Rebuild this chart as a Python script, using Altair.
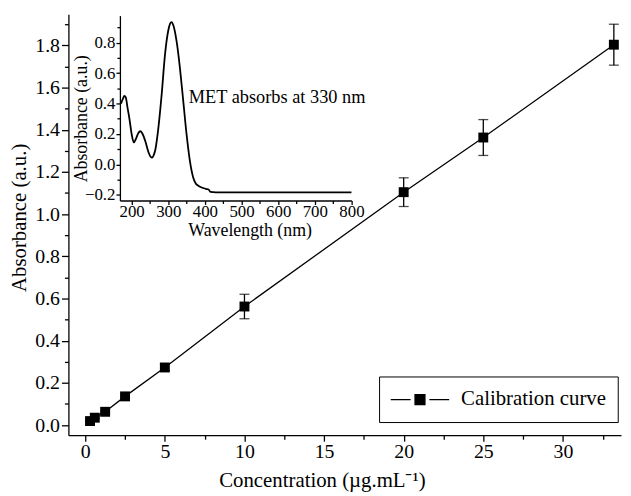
import altair as alt
import pandas as pd

# ---- calibration data ----
conc = [0.3, 0.6, 1.25, 2.5, 5, 10, 20, 25, 33.2]
absorb = [0.019, 0.035, 0.063, 0.136, 0.273, 0.562, 1.104, 1.363, 1.803]
err = [0.004, 0.004, 0.005, 0.006, 0.015, 0.058, 0.068, 0.085, 0.097]
series = ["Calibration curve"] * len(conc)

# ---- UV spectrum (inset) ----
wl = [171, 176, 180, 184, 189, 194, 200, 206, 212, 218, 224, 230, 237, 246, 252,
      256, 260, 265, 273, 282, 291, 300, 305, 309, 314, 323, 332, 341, 350, 359,
      368, 375, 382, 395, 404, 410, 415, 430, 500, 600, 700, 800]
spec = [0.40, 0.43, 0.45, 0.44, 0.37, 0.30, 0.20, 0.145, 0.17, 0.205, 0.218, 0.20,
        0.155, 0.08, 0.05, 0.045, 0.06, 0.10, 0.24, 0.46, 0.72, 0.88, 0.925, 0.935,
        0.913, 0.805, 0.63, 0.414, 0.197, 0.023, -0.086, -0.125, -0.14, -0.155,
        -0.162, -0.165, -0.18, -0.183, -0.183, -0.183, -0.184, -0.184]

note_x = [356]
note_y = [0.403]
note_text = ["MET absorbs at 330 nm"]

main_x_ticks = [0, 5, 10, 15, 20, 25, 30]
main_x_minor = [2.5, 7.5, 12.5, 17.5, 22.5, 27.5, 32.5]
main_y_ticks = [0.0, 0.2, 0.4, 0.6, 0.8, 1.0, 1.2, 1.4, 1.6, 1.8]
main_y_minor = [0.1, 0.3, 0.5, 0.7, 0.9, 1.1, 1.3, 1.5, 1.7, 1.9]
in_x_ticks = [200, 300, 400, 500, 600, 700, 800]
in_x_minor = [250, 350, 450, 550, 650, 750]
in_y_ticks = [-0.2, 0.0, 0.2, 0.4, 0.6, 0.8]
in_y_minor = [-0.1, 0.1, 0.3, 0.5, 0.7, 0.9]

FONT = "Liberation Serif"
W, H = 558, 425

cal = pd.DataFrame({
    "conc": conc, "absorb": absorb,
    "lo": [a - e for a, e in zip(absorb, err)],
    "hi": [a + e for a, e in zip(absorb, err)],
    "series": series,
})
spec_df = pd.DataFrame({"nm": wl, "a": spec})
note_df = pd.DataFrame({"nm": note_x, "a": note_y, "t": note_text})

xs = alt.Scale(domain=[-1.057, 33.65], nice=False, zero=False)
ys = alt.Scale(domain=[-0.048, 1.947], nice=False, zero=False)
xi = alt.Scale(domain=[168, 800], range=[52, 285.8], nice=False, zero=False)
yi = alt.Scale(domain=[-0.237, 0.978], range=[188, 1.3], nice=False, zero=False)

common = dict(domainColor="black", tickColor="black", labelColor="black",
              titleColor="black", labelFont=FONT, titleFont=FONT, labelOverlap=False,
              labelFlush=False, titleFontWeight="normal", grid=False,
              domainWidth=1.3, tickWidth=1.3)

main_x_axis = alt.Axis(orient="bottom", values=main_x_ticks, format="d", tickSize=6,
                       labelPadding=1, labelFontSize=20, title="Concentration (µg.mL⁻¹)",
                       titleFontSize=21, titleX=256, titleY=52, titleAlign="center",
                       titleBaseline="alphabetic", **common)
main_y_axis = alt.Axis(orient="left", values=main_y_ticks, format=".1f", tickSize=7,
                       labelPadding=2, labelFontSize=20, title="Absorbance (a.u.)",
                       titleFontSize=21, titleX=-49, titleY=205, titleAngle=270,
                       titleAlign="center", titleBaseline="middle", **common)
minor_common = dict(domain=False, labels=False, title=None, tickColor="black",
                    tickWidth=1.3, grid=False)
main_x_minor_axis = alt.Axis(orient="bottom", values=main_x_minor, tickSize=4, **minor_common)
main_y_minor_axis = alt.Axis(orient="left", values=main_y_minor, tickSize=4, **minor_common)

in_x_axis = alt.Axis(orient="bottom", offset=-(H - 188), values=in_x_ticks, format="d",
                     tickSize=4, labelPadding=-1, labelFontSize=17, title="Wavelength (nm)",
                     titleFontSize=18, titleX=183, titleY=35, titleAlign="center",
                     titleBaseline="alphabetic", **common)
in_y_axis = alt.Axis(orient="left", offset=-52, values=in_y_ticks, format=".1f",
                     tickSize=4, labelPadding=1, labelFontSize=17, title="Absorbance (a.u.)",
                     titleFontSize=18, titleX=-39, titleY=105, titleAngle=270,
                     titleAlign="center", titleBaseline="middle", **common)
in_x_minor_axis = alt.Axis(orient="bottom", offset=-(H - 188), values=in_x_minor,
                           tickSize=3, **minor_common)
in_y_minor_axis = alt.Axis(orient="left", offset=-52, values=in_y_minor, tickSize=3,
                           **minor_common)

# legend symbol: line - square - line, drawn wider than its nominal size
legend_path = "M-2.81,0H-0.905M0.905,0H2.81M-0.476,-0.476H0.476V0.476H-0.476Z"
legend = alt.Legend(title=None, orient="none", legendX=313.7, legendY=365.7,
                    strokeColor="black", fillColor="white", padding=11.8,
                    symbolType=legend_path, symbolSize=441, symbolStrokeWidth=1.3,
                    symbolStrokeColor="black", symbolFillColor="black",
                    symbolOffset=18, labelOffset=30,
                    labelFont=FONT, labelFontSize=21, labelColor="black",
                    labelLimit=400, cornerRadius=0)
color = alt.Color("series:N", scale=alt.Scale(range=["black"]), legend=legend)

base = alt.Chart(cal)

line = base.mark_line(strokeWidth=1.3).encode(
    x=alt.X("conc:Q", scale=xs, axis=main_x_axis),
    y=alt.Y("absorb:Q", scale=ys, axis=main_y_axis),
    color=color,
)
minor = base.mark_point(opacity=0).encode(
    x=alt.X("conc:Q", scale=xs, axis=main_x_minor_axis),
    y=alt.Y("absorb:Q", scale=ys, axis=main_y_minor_axis),
)
bars = base.mark_rule(color="black", strokeWidth=1.3).encode(
    x=alt.X("conc:Q", scale=xs, axis=None),
    y=alt.Y("lo:Q", scale=ys, axis=None),
    y2="hi:Q",
)
cap_lo = base.mark_tick(color="black", orient="horizontal", size=10, thickness=1.3).encode(
    x=alt.X("conc:Q", scale=xs, axis=None),
    y=alt.Y("lo:Q", scale=ys, axis=None),
)
cap_hi = base.mark_tick(color="black", orient="horizontal", size=10, thickness=1.3).encode(
    x=alt.X("conc:Q", scale=xs, axis=None),
    y=alt.Y("hi:Q", scale=ys, axis=None),
)
pts = base.mark_point(shape="square", filled=True, size=100, opacity=1).encode(
    x=alt.X("conc:Q", scale=xs, axis=None),
    y=alt.Y("absorb:Q", scale=ys, axis=None),
    color=color,
)

spec_line = alt.Chart(spec_df).mark_line(color="black", strokeWidth=1.8,
                                         interpolate="monotone").encode(
    x=alt.X("nm:Q", scale=xi, axis=in_x_axis),
    y=alt.Y("a:Q", scale=yi, axis=in_y_axis),
)
spec_minor = alt.Chart(spec_df).mark_point(opacity=0).encode(
    x=alt.X("nm:Q", scale=xi, axis=in_x_minor_axis),
    y=alt.Y("a:Q", scale=yi, axis=in_y_minor_axis),
)
note = alt.Chart(note_df).mark_text(align="left", baseline="alphabetic", font=FONT,
                                    fontSize=18.5, color="black").encode(
    x=alt.X("nm:Q", scale=xi, axis=None),
    y=alt.Y("a:Q", scale=yi, axis=None),
    text="t:N",
)

chart = alt.layer(line, minor, bars, cap_lo, cap_hi, pts, spec_line, spec_minor, note).resolve_scale(
    x="independent", y="independent"
).properties(
    width=W, height=H,
    autosize=alt.AutoSizeParams(type="none"),
    padding={"left": 61, "top": 4, "right": 2, "bottom": 58},
).configure(
    background="white", font=FONT
).configure_view(stroke=None).configure_axis(
    labelFont=FONT, titleFont=FONT
).configure_legend(labelFont=FONT)

chart.save("out.html", embed_options={"renderer": "svg", "actions": False})
